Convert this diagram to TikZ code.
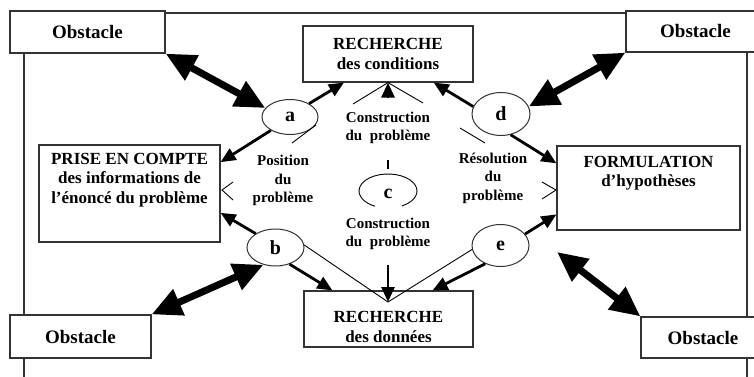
\documentclass[tikz,border=0pt]{standalone}
\usepackage{fontspec}
\setmainfont{Liberation Serif}
\usetikzlibrary{shapes.geometric, arrows.meta, positioning}
\tikzset{
    box/.style={rectangle, draw=black!80, fill=white, line width=1.2pt, align=center, font=\bfseries\fontsize{17}{19.5}\selectfont, inner sep=0pt},
    obstacle/.style={box, font=\bfseries\fontsize{19}{20}\selectfont},
    boxtext/.style={align=center, font=\bfseries\fontsize{17}{19.5}\selectfont, inner sep=0pt},
    bubble/.style={ellipse, draw=black!80, fill=white, line width=1pt, font=\bfseries\fontsize{20}{20}\selectfont, inner sep=0pt},
    lbl/.style={align=center, font=\bfseries\fontsize{15}{18.5}\selectfont, inner sep=0pt},
    bigarrow/.style={line width=7pt, {Triangle[length=30pt,width=27pt]}-{Triangle[length=30pt,width=27pt]}},
    midarrow/.style={line width=2.8pt, -{Triangle[length=15pt,width=13pt]}},
    thinline/.style={line width=0.9pt}
}
\begin{document}
\begin{tikzpicture}[x=1pt, y=1pt]
    \clip (0,0) rectangle (754,376);
    \useasboundingbox (0,0) rectangle (754,376);

    % Outer frame
    \draw[line width=1.2pt, black!80] (24,363) rectangle (747,-20);

    % Obstacles in the corners
    \node[obstacle, minimum width=155, minimum height=42] (obsTL) at (87.5,344) {Obstacle};
    \node[obstacle, minimum width=139, minimum height=41] (obsTR) at (695.5,344.5) {Obstacle};
    \node[obstacle, minimum width=141, minimum height=43] (obsBL) at (80.5,39.5) {Obstacle};
    \node[obstacle, minimum width=124, minimum height=41] (obsBR) at (703,38.5) {Obstacle};

    % Main boxes
    \node[box, minimum width=170, minimum height=56] (condBox) at (388,322) {RECHERCHE\\des conditions};
    \node[box, minimum width=181, minimum height=97] (priseBox) at (129.5,182.5) {};
    \node[boxtext] (priseText) at (129.5,196) {PRISE EN COMPTE\\des informations de\\l'énoncé du problème};
    \node[box, minimum width=183, minimum height=84] (formBox) at (648.5,188) {};
    \node[boxtext] (formText) at (648.5,203) {FORMULATION\\d'hypothèses};
    \node[box, minimum width=169, minimum height=56] (donBox) at (388.5,57) {};
    \node[boxtext] (donText) at (388.5,49) {RECHERCHE\\des données};

    % Bubbles
    \node[bubble, minimum width=56, minimum height=35] (a) at (290,259) {a};
    \node[bubble, minimum width=58, minimum height=43] (d) at (501,262) {d};
    \node[bubble, minimum width=57, minimum height=37] (b) at (275.5,128.5) {b};
    \node[bubble, minimum width=57, minimum height=42] (e) at (500.5,130.5) {e};
    \node[font=\bfseries\fontsize{20}{20}\selectfont, inner sep=0pt] (c) at (388,182) {c};

    % Labels
    \node[lbl] (consUp) at (388,248) {Construction\\du~~problème};
    \node[lbl] (consDown) at (388,142) {Construction\\du~~problème};
    \node[lbl] (position) at (283,195.5) {Position\\du\\problème};
    \node[lbl] (resolution) at (493,198) {Résolution\\du\\problème};

    % Free ends
    \coordinate (brTip) at (557,124);
    \coordinate (upFoot) at (388,279);
    \coordinate (downFoot) at (388,111);
    \coordinate (vApex) at (388,74);
    \coordinate (capL) at (353,272);
    \coordinate (capR) at (423,273);

    % Obstacle arrows
    \draw[bigarrow] (obsTL.south east) -- (a.160);
    \draw[bigarrow] (obsTR.south west) -- (d.15);
    \draw[bigarrow] (obsBL.north east) -- (b.235);
    \draw[bigarrow] (obsBR.north west) -- (brTip);

    % Arrows from the bubbles
    \draw[midarrow] (a.35) -- (condBox.213);
    \draw[midarrow] (a.215) -- (priseBox.19);
    \draw[midarrow] (b.145) -- (priseBox.-12);
    \draw[midarrow] (b.-50) -- (donBox.153);
    \draw[midarrow] (d.165) -- (condBox.-32);
    \draw[midarrow] (d.-65) -- (formBox.165);
    \draw[midarrow] (e.25) -- (formBox.196);
    \draw[midarrow] (e.-130) -- (donBox.33);
    \draw[midarrow] (upFoot) -- (condBox.south);
    \draw[midarrow] (downFoot) -- (vApex);

    % Thin strokes
    \draw[thinline] (b.5) -- (vApex) -- (e.188);
    \draw[thinline] (capL) -- (condBox.south) -- (capR);
    \draw[thinline] (292,233) -- (316,251);
    \draw[thinline] (460,248) -- (485,233);
    \draw[thinline] (233,194) -- (222,186) -- (233,176);
    \draw[thinline] (542,194) -- (556,186) -- (542,177);

    % Open circle round c
    \draw[thinline] ([shift={(-61:29 and 17)}]388,185) arc[start angle=-61, end angle=243, x radius=29, y radius=17];
    \draw[line width=2pt] (388,207) -- (388,216);
\end{tikzpicture}
\end{document}
